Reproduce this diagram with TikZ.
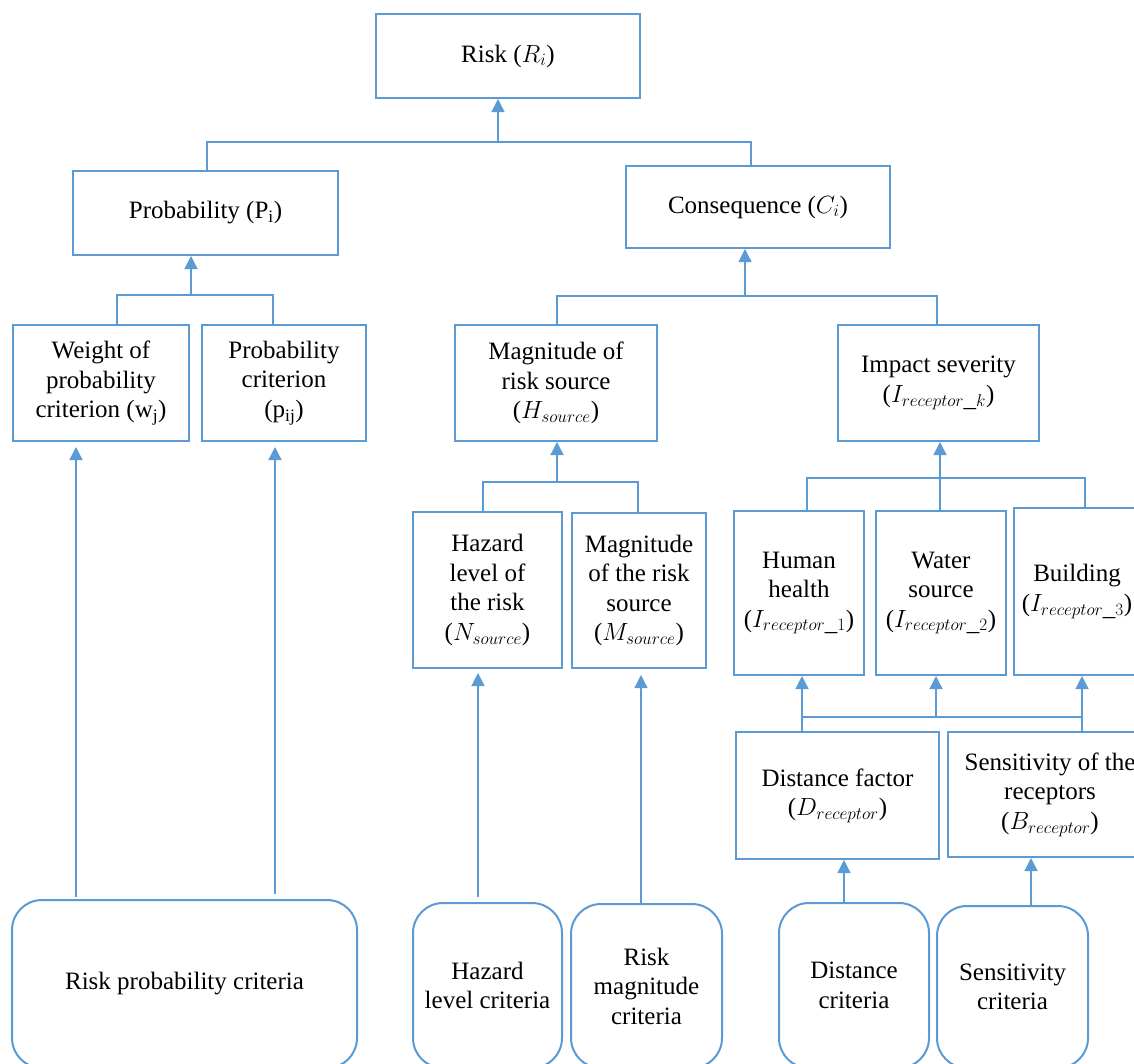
\documentclass[tikz,border=0pt]{standalone}
\usepackage{fontspec}
\setmainfont{Liberation Serif}
\usetikzlibrary{arrows.meta,calc}
\definecolor{bl}{HTML}{5B9BD5}
\tikzset{
  box/.style={draw=bl, line width=2pt, align=center, inner sep=2pt,
    font=\fontsize{25}{29.5}\selectfont, text=black},
  rbox/.style={box, rounded corners=30pt},
  ln/.style={draw=bl, line width=1.3pt},
  arr/.style={ln, -{Triangle[width=13pt,length=13pt]}},
}
\begin{document}
\begin{tikzpicture}[x=1pt,y=-1pt]
\useasboundingbox (0,0) rectangle (1134,1063);
\fill[white] (0,0) rectangle (1134,1063);
\clip (0,0) rectangle (1134,1063);
% level 1
\node[box, minimum width=264pt, minimum height=84pt] (risk) at (508,56) {Risk ($R_i$)};
% level 2
\node[box, minimum width=265pt, minimum height=84pt] (prob) at (205.5,213) {Probability (P\textsubscript{i})};
\node[box, minimum width=264pt, minimum height=82pt] (cons) at (758,207) {Consequence ($C_i$)};
% level 3
\node[box, minimum width=176pt, minimum height=116pt] (weight) at (101,383) {Weight of\\probability\\criterion (w\textsubscript{j})};
\node[box, minimum width=164pt, minimum height=116pt] (pcrit) at (284,383) {Probability\\criterion\\(p\textsubscript{ij})};
\node[box, minimum width=202pt, minimum height=116pt] (mag) at (556,383) {Magnitude of\\risk source\\($H_{source}$)};
\node[box, minimum width=201pt, minimum height=116pt] (imp) at (938.5,383) {Impact severity\\($I_{receptor\_k}$)};
% level 4
\node[box, minimum width=149pt, minimum height=156pt] (haz) at (487.5,590) {Hazard\\level of\\the risk\\($N_{source}$)};
\node[box, minimum width=134pt, minimum height=155pt] (mrs) at (639,590.5) {Magnitude\\of the risk\\source\\($M_{source}$)};
\node[box, minimum width=130pt, minimum height=164pt] (hum) at (799,593) {Human\\health\\($I_{receptor\_1}$)};
\node[box, minimum width=130pt, minimum height=164pt] (wat) at (941,593) {Water\\source\\($I_{receptor\_2}$)};
\node[box, minimum width=126pt, minimum height=167pt] (bld) at (1077,591.5) {Building\\($I_{receptor\_3}$)};
% level 5
\node[box, minimum width=203pt, minimum height=127pt] (dist) at (837.5,795.5) {Distance factor\\($D_{receptor}$)};
\node[box, minimum width=204pt, minimum height=125pt] (sens) at (1050,794.5) {Sensitivity of the\\receptors\\($B_{receptor}$)};
% bottom criteria
\node[rbox, minimum width=345pt, minimum height=168pt] (rpc) at (184.5,984) {Risk probability criteria};
\node[rbox, minimum width=149pt, minimum height=165pt] (hlc) at (487.5,985.5) {Hazard\\level criteria};
\node[rbox, minimum width=151pt, minimum height=164pt] (rmc) at (646.5,986) {Risk\\magnitude\\criteria};
\node[rbox, minimum width=150pt, minimum height=165pt] (dc) at (854,985.5) {Distance\\criteria};
\node[rbox, minimum width=151pt, minimum height=162pt] (sc) at (1012.5,987) {Sensitivity\\criteria};

% connectors: top
\coordinate (b1) at (498,142);
\draw[arr] (b1) -- (b1 |- risk.south);
\coordinate (p1) at ([xshift=1.5pt]prob.north);
\coordinate (c1) at ([xshift=-7pt]cons.north);
\draw[ln] (p1) |- (c1 |- b1) -- (c1);
% probability bus
\coordinate (b2) at (191,295);
\draw[arr] (b2) -- (b2 |- prob.south);
\coordinate (w1) at ([xshift=16pt]weight.north);
\coordinate (q1) at ([xshift=-11pt]pcrit.north);
\draw[ln] (w1) |- (q1 |- b2) -- (q1);
% consequence bus
\coordinate (b3) at (745,296);
\draw[arr] (b3) -- (b3 |- cons.south);
\coordinate (m1) at ([xshift=1pt]mag.north);
\coordinate (i1) at ([xshift=-1.5pt]imp.north);
\draw[ln] (m1) |- (i1 |- b3) -- (i1);
% magnitude bus
\coordinate (b4) at (557,482);
\draw[arr] (b4) -- (b4 |- mag.south);
\coordinate (h1) at ([xshift=-4.5pt]haz.north);
\coordinate (r1) at ([xshift=-1pt]mrs.north);
\draw[ln] (h1) |- (r1 |- b4) -- (r1);
% impact bus
\coordinate (b5) at (940,478);
\coordinate (wt) at ([xshift=-1pt]wat.north);
\draw[arr] (wt) -- (wt |- imp.south);
\coordinate (u1) at ([xshift=8pt]hum.north);
\coordinate (d1) at ([xshift=8pt]bld.north);
\draw[ln] (u1) |- (d1 |- b5) -- (d1);
% receptor bus
\coordinate (bL) at (802,717);
\coordinate (bM) at (936,717);
\coordinate (bR) at (1082,717);
\draw[ln] (bL) -- (bR);
\draw[arr] (bL) -- (bL |- hum.south);
\draw[arr] (bM) -- (bM |- wat.south);
\draw[arr] (bR) -- (bR |- bld.south);
\draw[ln] (bL) -- (bL |- dist.north);
\draw[ln] (bR) -- (bR |- sens.north);
% criteria arrows
\coordinate (a1) at ([xshift=-108.5pt]rpc.north);
\draw[arr, shorten <=2pt, shorten >=5pt] (a1) -- (a1 |- weight.south);
\coordinate (a2) at ([xshift=90.5pt]rpc.north);
\draw[arr, shorten <=5pt, shorten >=5pt] (a2) -- (a2 |- pcrit.south);
\coordinate (a3) at ([xshift=-9.5pt]hlc.north);
\draw[arr, shorten <=5pt, shorten >=4pt] (a3) -- (a3 |- haz.south);
\coordinate (a4) at ([xshift=-5.5pt]rmc.north);
\draw[arr, shorten >=6pt] (a4) -- (a4 |- mrs.south);
\coordinate (a5) at ([xshift=-10pt]dc.north);
\draw[arr] (a5) -- (a5 |- dist.south);
\coordinate (a6) at ([xshift=18.5pt]sc.north);
\draw[arr] (a6) -- (a6 |- sens.south);
\end{tikzpicture}
\end{document}
